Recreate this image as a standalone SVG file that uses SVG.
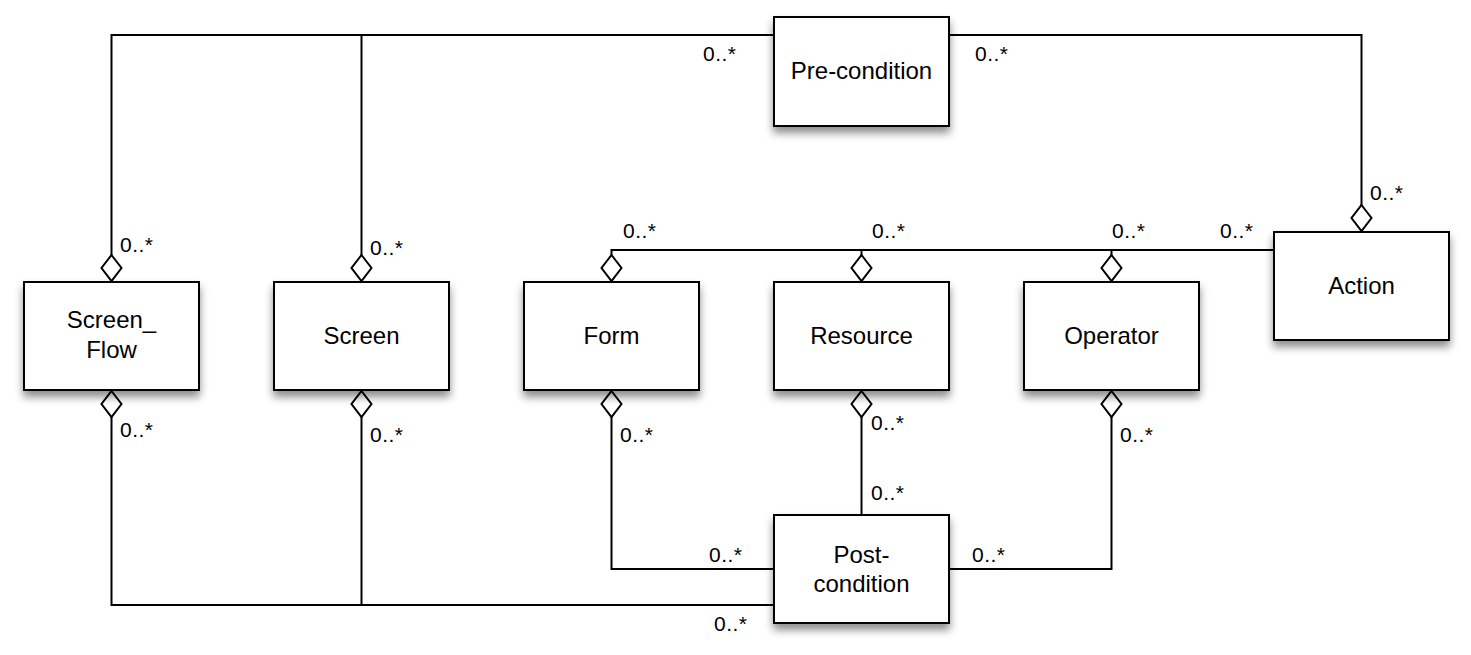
<svg xmlns="http://www.w3.org/2000/svg" xmlns:xlink="http://www.w3.org/1999/xlink" width="1471" height="655" viewBox="0 0 1471 655">
<style>
.box{fill:#fff;stroke:#000;stroke-width:2;filter:url(#sh)}
.name{font-family:"Liberation Sans",Arial,sans-serif;font-size:24px;fill:#000;text-anchor:middle}
.mult{font-family:"Liberation Sans",Arial,sans-serif;font-size:21px;fill:#000;letter-spacing:0.5px}
.conn path{fill:none;stroke:#000;stroke-width:2}
.dia{fill:#fff;stroke:#000;stroke-width:2}
</style>
<defs>
<filter id="sh" x="-20%" y="-20%" width="140%" height="150%">
<feDropShadow dx="0" dy="6" stdDeviation="4" flood-color="#000" flood-opacity="0.45"/>
</filter>
<path id="dia" class="dia" d="M0,0 L10,13 L0,26 L-10,13 Z"/>
</defs>
<rect width="1471" height="655" fill="#fff"/>
<g id="connectors" class="conn">
<path d="M111.5,255 V35 H774"/>
<path d="M361.5,255 V35"/>
<path d="M949,35 H1361.5 V205"/>
<path d="M1274,250 H611.5 V255"/>
<path d="M861.5,250 V255"/>
<path d="M1111.5,250 V255"/>
<path d="M111.5,417 V605 H774"/>
<path d="M361.5,417 V605"/>
<path d="M611.5,417 V569 H774"/>
<path d="M861.5,417 V515"/>
<path d="M949,569 H1111.5 V417"/>
<use xlink:href="#dia" x="111.5" y="255"/>
<use xlink:href="#dia" x="361.5" y="255"/>
<use xlink:href="#dia" x="611.5" y="255"/>
<use xlink:href="#dia" x="861.5" y="255"/>
<use xlink:href="#dia" x="1111.5" y="255"/>
<use xlink:href="#dia" x="1361.5" y="205"/>
<use xlink:href="#dia" x="111.5" y="391"/>
<use xlink:href="#dia" x="361.5" y="391"/>
<use xlink:href="#dia" x="611.5" y="391"/>
<use xlink:href="#dia" x="861.5" y="391"/>
<use xlink:href="#dia" x="1111.5" y="391"/>
<text class="mult" x="703" y="61">0..*</text>
<text class="mult" x="975" y="61">0..*</text>
<text class="mult" x="120" y="252">0..*</text>
<text class="mult" x="370" y="255">0..*</text>
<text class="mult" x="623" y="238">0..*</text>
<text class="mult" x="872" y="238">0..*</text>
<text class="mult" x="1112" y="238">0..*</text>
<text class="mult" x="1220" y="238">0..*</text>
<text class="mult" x="1370" y="200">0..*</text>
<text class="mult" x="120" y="437">0..*</text>
<text class="mult" x="370" y="442">0..*</text>
<text class="mult" x="620" y="442">0..*</text>
<text class="mult" x="871" y="430">0..*</text>
<text class="mult" x="871" y="500">0..*</text>
<text class="mult" x="1120" y="442">0..*</text>
<text class="mult" x="709" y="562">0..*</text>
<text class="mult" x="972" y="562">0..*</text>
<text class="mult" x="714" y="631">0..*</text>
</g>
<g id="precondition"><rect class="box" x="774" y="17" width="175" height="109"/><text class="name" x="861.5" y="79">Pre-condition</text></g>
<g id="screenflow"><rect class="box" x="24" y="282" width="175" height="108"/><text class="name" x="111.5" y="328">Screen_</text><text class="name" x="111.5" y="358">Flow</text></g>
<g id="screen"><rect class="box" x="274" y="282" width="175" height="108"/><text class="name" x="361.5" y="344">Screen</text></g>
<g id="form"><rect class="box" x="524" y="282" width="175" height="108"/><text class="name" x="611.5" y="344">Form</text></g>
<g id="resource"><rect class="box" x="774" y="282" width="175" height="108"/><text class="name" x="861.5" y="344">Resource</text></g>
<g id="operator"><rect class="box" x="1024" y="282" width="175" height="108"/><text class="name" x="1111.5" y="344">Operator</text></g>
<g id="action"><rect class="box" x="1274" y="232" width="175" height="108"/><text class="name" x="1361.5" y="294">Action</text></g>
<g id="postcondition"><rect class="box" x="774" y="515" width="175" height="108"/><text class="name" x="861.5" y="563">Post-</text><text class="name" x="861.5" y="592">condition</text></g>
</svg>
